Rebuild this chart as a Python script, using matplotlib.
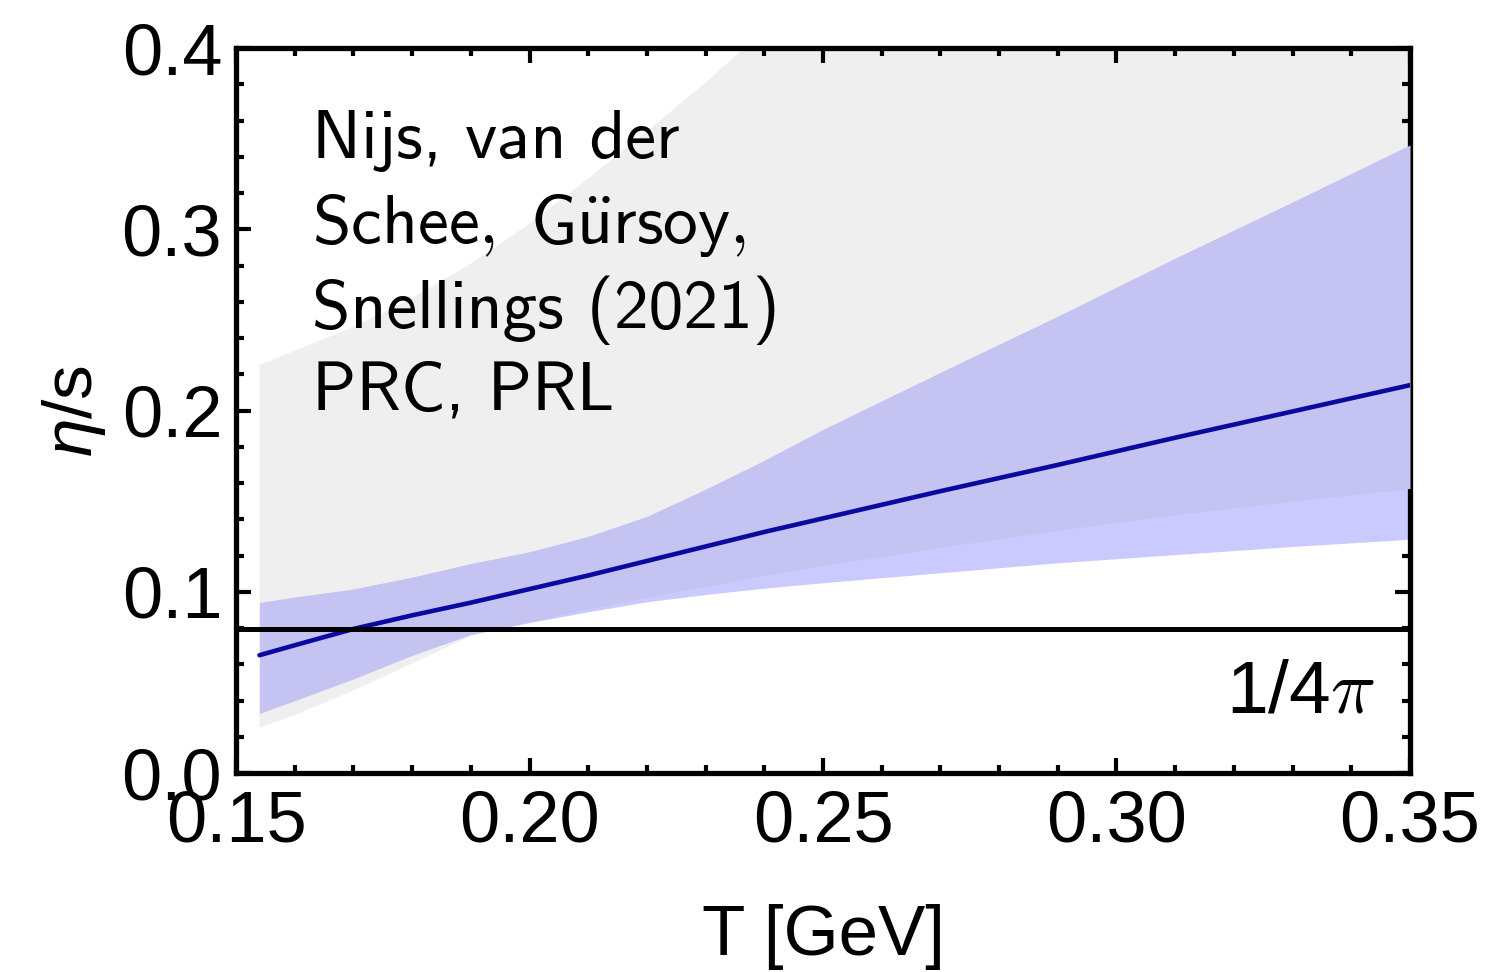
import numpy as np
import matplotlib
matplotlib.use("Agg")
import matplotlib.pyplot as plt
from matplotlib.font_manager import FontProperties
from matplotlib.ticker import MultipleLocator

plt.rcParams['font.family'] = ['Liberation Sans', 'DejaVu Sans']
plt.rcParams['mathtext.fontset'] = 'custom'
plt.rcParams['mathtext.rm'] = 'Liberation Sans'
plt.rcParams['mathtext.it'] = 'Liberation Sans:italic'

# Temperature grid [GeV]
T = [0.154, 0.16, 0.17, 0.18, 0.19, 0.20, 0.21, 0.22, 0.23, 0.24, 0.25,
     0.27, 0.29, 0.31, 0.33, 0.35]

# Median eta/s curve
eta_s_median = [0.065, 0.0705, 0.0795, 0.087, 0.094, 0.1015, 0.109, 0.117,
                0.125, 0.133, 0.1405, 0.1555, 0.170, 0.185, 0.1995, 0.214]

# Blue credible band
blue_low = [0.033, 0.040, 0.052, 0.065, 0.0765, 0.083, 0.089, 0.0945,
            0.0985, 0.102, 0.105, 0.1105, 0.116, 0.1205, 0.125, 0.129]
blue_high = [0.094, 0.097, 0.1015, 0.108, 0.1155, 0.122, 0.1305, 0.1415,
             0.1565, 0.1725, 0.1895, 0.221, 0.252, 0.284, 0.315, 0.3465]

# Grey (wide) band
grey_low = [0.025, 0.032, 0.0455, 0.0605, 0.0755, 0.0835, 0.0905, 0.097,
            0.103, 0.109, 0.1145, 0.1245, 0.134, 0.1425, 0.150, 0.157]
grey_high = [0.225, 0.233, 0.246, 0.262, 0.281, 0.303, 0.328, 0.354,
             0.381, 0.41, 0.44, 0.50, 0.56, 0.62, 0.68, 0.74]

KSS_BOUND = 1.0 / (4.0 * np.pi)

x_ticks = [0.15, 0.20, 0.25, 0.30, 0.35]
x_tick_labels = ["0.15", "0.20", "0.25", "0.30", "0.35"]
y_ticks = [0.0, 0.1, 0.2, 0.3, 0.4]
y_tick_labels = ["0.0", "0.1", "0.2", "0.3", "0.4"]

# Reference annotation, one entry per line
ref_lines = ["Nijs, van der",
             r"$\mathsf{Schee,\ G\ddot{u}rsoy,}$",
             "Snellings (2021)",
             "PRC, PRL"]

fig = plt.figure(figsize=(14.9, 9.72), dpi=100)
ax = fig.add_axes([0.1584, 0.2047, 0.7879, 0.7459])

t = np.array(T)
gl, gh = np.array(grey_low), np.array(grey_high)
bl, bh = np.array(blue_low), np.array(blue_high)

ax.fill_between(t, gl, gh, color='#efefef', lw=0, zorder=1)
ax.fill_between(t, bl, bh, color='#cacafe', lw=0, zorder=2)
ov_lo = np.maximum(gl, bl)
ov_hi = np.minimum(gh, bh)
ax.fill_between(t, ov_lo, ov_hi, where=ov_hi > ov_lo, interpolate=True,
                color='#c4c3f1', lw=0, zorder=3)

ax.plot(t, eta_s_median, color='#0a0aa0', lw=3.3, zorder=4,
        solid_capstyle='round')
ax.axhline(KSS_BOUND, color='black', lw=3.6, zorder=5)

ax.set_xlim(0.15, 0.35)
ax.set_ylim(0.0, 0.4)
ax.set_xticks(x_ticks)
ax.set_xticklabels(x_tick_labels)
ax.set_yticks(y_ticks)
ax.set_yticklabels(y_tick_labels)
ax.xaxis.set_minor_locator(MultipleLocator(0.01))
ax.yaxis.set_minor_locator(MultipleLocator(0.02))
ax.tick_params(which='both', direction='in', top=True, right=True,
               width=3, labelsize=52)
ax.tick_params(axis='x', which='major', length=11, pad=12)
ax.tick_params(axis='y', which='major', length=11, pad=10)
ax.tick_params(which='minor', length=6)
for sp in ax.spines.values():
    sp.set_linewidth(3.8)

ax.set_xlabel("T [GeV]", fontsize=51, labelpad=34)
ax.set_ylabel(r"$\eta$/s", fontsize=50, labelpad=10)

sans_cm = FontProperties(family=['cmss10', 'DejaVu Sans'], size=50,
                         math_fontfamily='cm')
baselines = [0.848, 0.731, 0.614, 0.501]
for txt, yb in zip(ref_lines, baselines):
    ax.text(0.0647, yb, txt, transform=ax.transAxes, ha='left',
            va='baseline', fontproperties=sans_cm, zorder=6)

pi_font = FontProperties(family='Liberation Sans', size=54,
                         math_fontfamily='cm')
ax.text(0.970, 0.084, r"1/4$\pi$", transform=ax.transAxes, ha='right',
        va='baseline', fontproperties=pi_font, zorder=6)

fig.savefig("out.png", dpi=100)
